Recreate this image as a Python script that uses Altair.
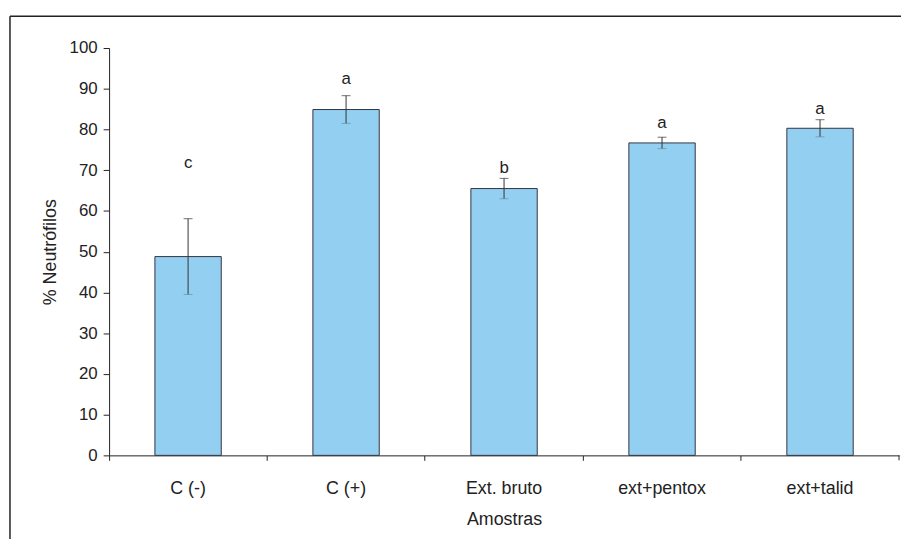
import altair as alt
import pandas as pd

categories = ["C (-)", "C (+)", "Ext. bruto", "ext+pentox", "ext+talid"]
means = [48.8, 84.9, 65.5, 76.7, 80.3]
errors = [9.3, 3.4, 2.5, 1.4, 2.1]
letters = ["c", "a", "b", "a", "a"]
letter_y = [71.5, 92.2, 70.3, 81.3, 84.7]

df = pd.DataFrame({
    "cat": categories,
    "mean": means,
    "err": errors,
    "letter": letters,
    "ly": letter_y,
})
df["lo"] = df["mean"] - df["err"]
df["hi"] = df["mean"] + df["err"]

FONT = "Liberation Sans"
W, H = 797, 411

x = alt.X(
    "cat:N",
    sort=categories,
    scale=alt.Scale(paddingInner=0, paddingOuter=0),
    axis=alt.Axis(
        title="Amostras",
        labelAngle=0,
        bandPosition=0,
        tickSize=5,
        tickColor="#222",
        domainColor="#222",
        labelPadding=19,
        labelFontSize=18,
        labelFont=FONT,
        labelColor="#222",
        titleFont=FONT,
        titleFontSize=18,
        titleFontWeight="normal",
        titleColor="#222",
        titlePadding=14,
        grid=False,
    ),
)
y_axis = alt.Axis(
    title="% Neutrófilos",
    values=list(range(0, 101, 10)),
    tickSize=6,
    tickColor="#222",
    domainColor="#222",
    labelPadding=6,
    labelFontSize=17,
    labelFont=FONT,
    labelColor="#222",
    titleFont=FONT,
    titleFontSize=18,
    titleFontWeight="normal",
    titleColor="#222",
    titlePadding=10,
    grid=False,
)

base = alt.Chart(df)

bars = base.mark_bar(
    width=alt.RelativeBandSize(0.42),
    color="#93cff0",
    stroke="#333344",
    strokeWidth=1,
).encode(
    x=x,
    y=alt.Y("mean:Q", scale=alt.Scale(domain=[0, 100], nice=False), axis=y_axis),
)

rules = base.mark_rule(color="#333", strokeWidth=1).encode(
    x=alt.X("cat:N", sort=categories),
    y="lo:Q",
    y2="hi:Q",
)
caps_hi = base.mark_tick(color="#333", thickness=1, size=9, orient="horizontal").encode(
    x=alt.X("cat:N", sort=categories), y="hi:Q"
)
caps_lo = base.mark_tick(color="#6a8aa0", thickness=1, size=9, orient="horizontal").encode(
    x=alt.X("cat:N", sort=categories), y="lo:Q"
)

labels = base.mark_text(
    font=FONT, fontSize=17, color="#222", baseline="middle", dy=-1
).encode(
    x=alt.X("cat:N", sort=categories),
    y="ly:Q",
    text="letter:N",
)

one = alt.Data(values=[{}])
end_tick = alt.Chart(one).mark_rule(color="#222").encode(
    x=alt.value(W), y=alt.value(H), y2=alt.value(H + 5)
)
frame_left = alt.Chart(one).mark_rule(color="#222", strokeWidth=1.5).encode(
    x=alt.value(-100), y=alt.value(-32), y2=alt.value(520)
)
frame_top = alt.Chart(one).mark_rule(color="#222", strokeWidth=1.5).encode(
    x=alt.value(-100), x2=alt.value(820), y=alt.value(-32)
)

chart = alt.layer(
    frame_left, frame_top, bars, rules, caps_hi, caps_lo, labels, end_tick
).properties(
    width=W,
    height=H,
    autosize=alt.AutoSizeParams(type="none"),
    padding={"left": 102, "top": 38, "right": 2, "bottom": 82},
    background="white",
).configure_view(stroke=None)

chart.save("out.html", embed_options={"renderer": "svg", "actions": False})
